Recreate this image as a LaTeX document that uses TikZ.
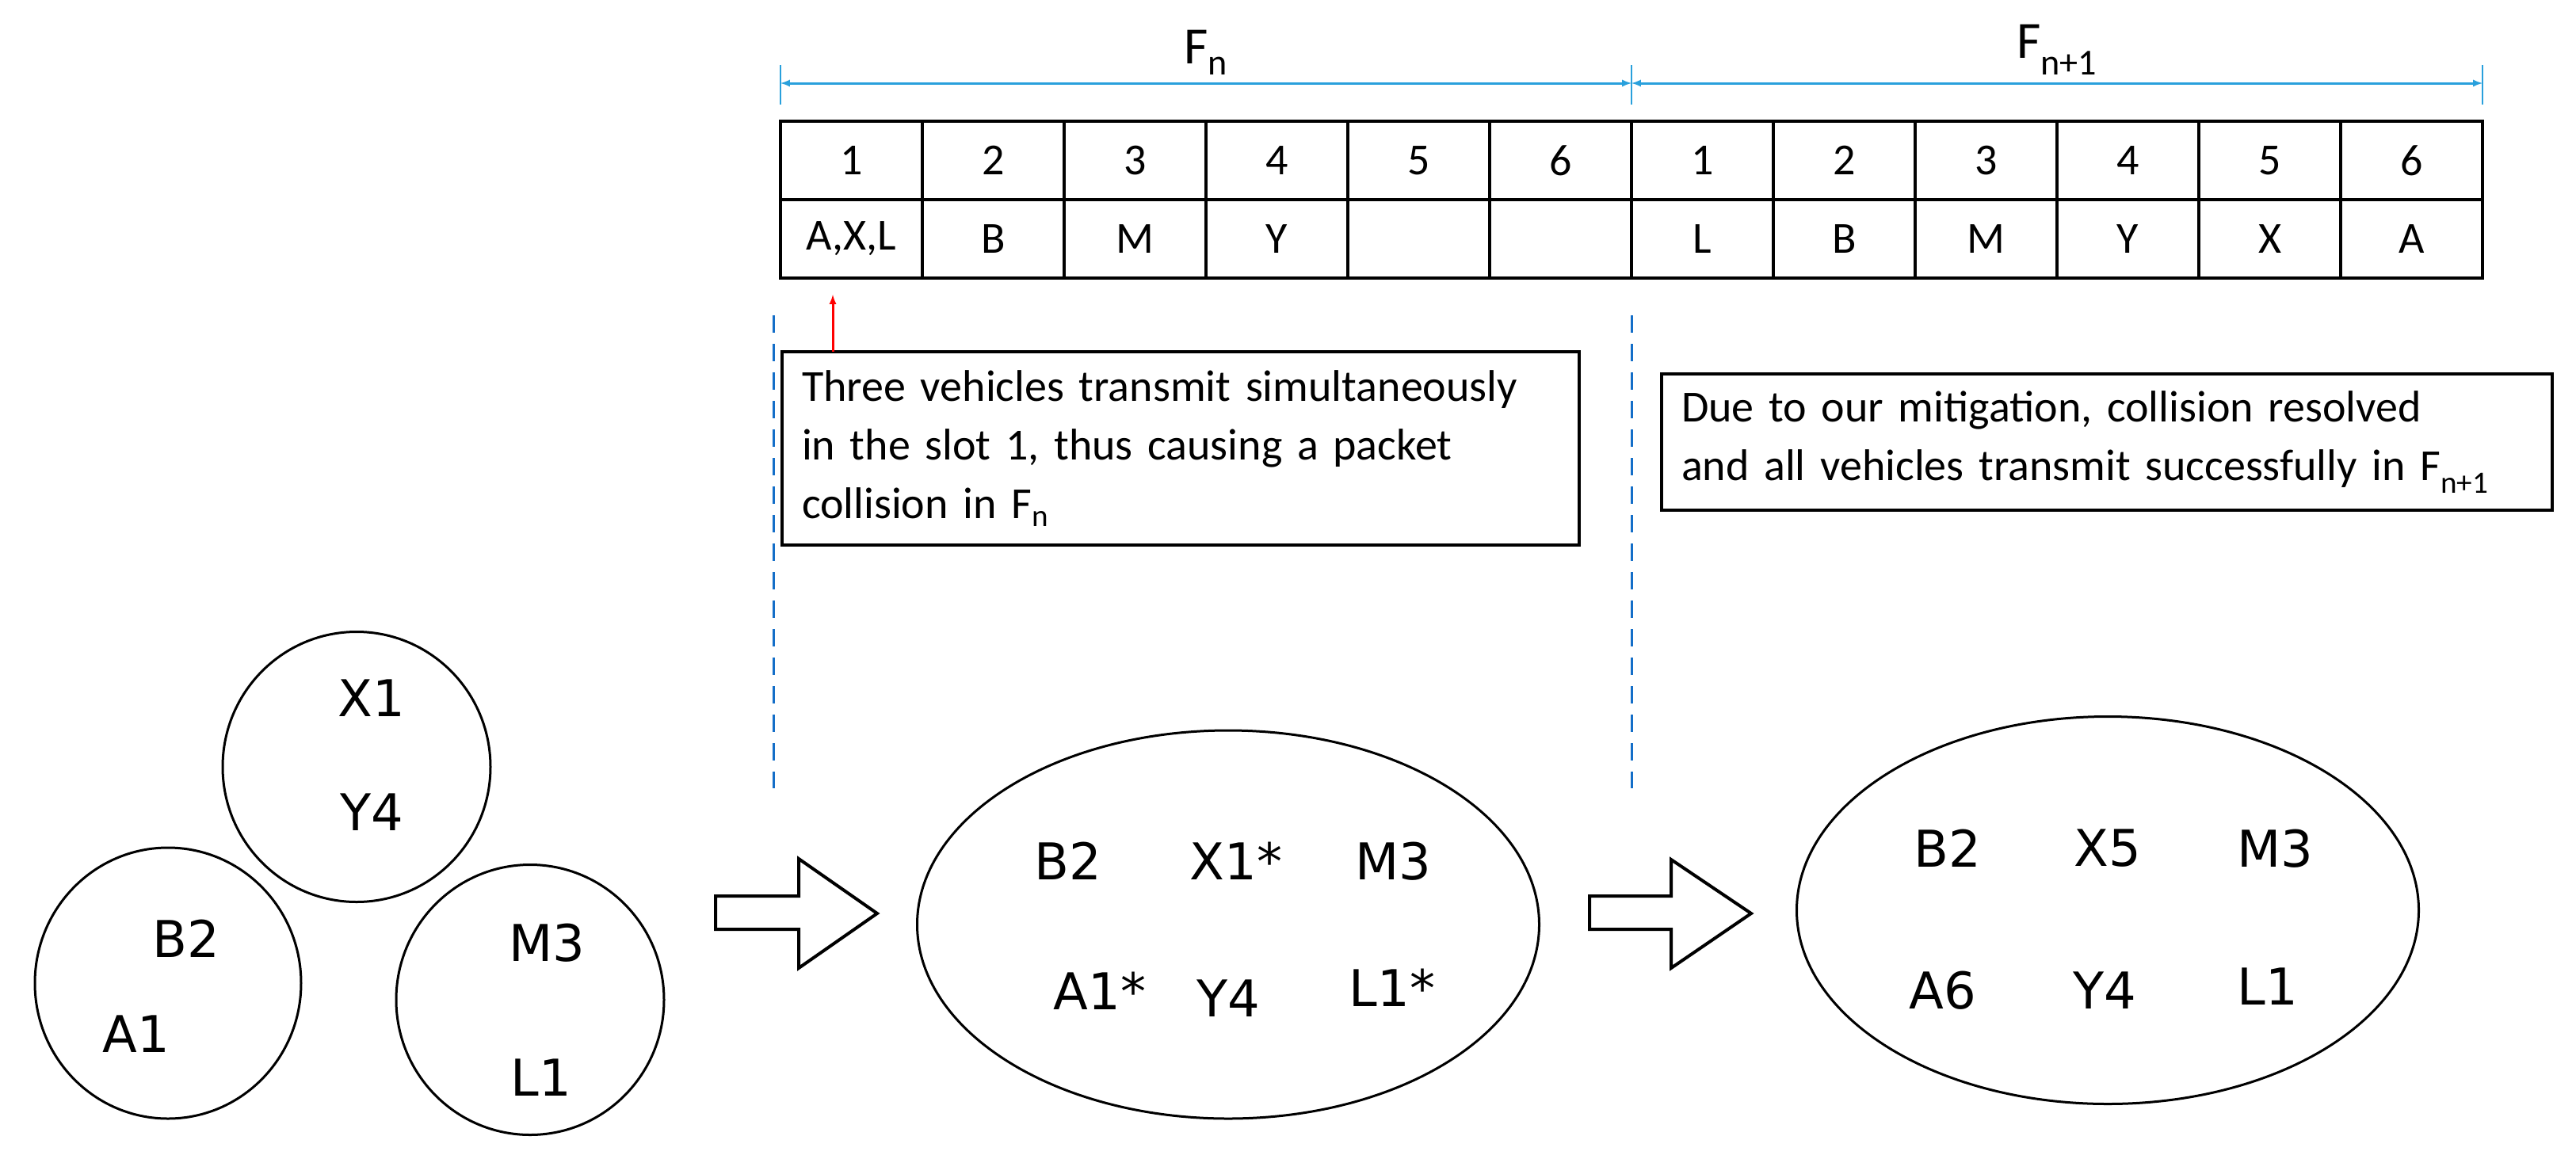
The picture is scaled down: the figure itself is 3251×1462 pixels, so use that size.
\documentclass[tikz,border=0pt]{standalone}
\usepackage{fontspec}
\usetikzlibrary{shapes.geometric}
\setmainfont{Carlito}
\newfontfamily\lblfont{DejaVu Sans}
\definecolor{spanblue}{RGB}{41,160,220}
\definecolor{dashblue}{RGB}{20,110,200}
\begin{document}
\begin{tikzpicture}[x=1pt,y=-1pt]
\tikzstyle{slot}=[draw, line width=3.5pt, minimum width=179pt, minimum height=99pt, inner sep=0pt, font=\fontsize{56}{60}\selectfont]
\tikzstyle{span}=[<->, >=latex, line width=3pt, spanblue]
\tikzstyle{tick}=[line width=2pt, spanblue]
\tikzstyle{divider}=[dashed, dash pattern=on 22pt off 14pt, line width=3pt, dashblue]
\tikzstyle{note}=[draw, line width=3.5pt, align=left, inner xsep=25pt, inner ysep=0pt, font=\fontsize{56}{74}\selectfont]
\tikzstyle{group}=[draw, line width=3pt, ellipse, inner sep=0pt]
\tikzstyle{veh}=[font=\lblfont\fontsize{64}{70}\selectfont]
\tikzstyle{block}=[draw, line width=4pt, fill=white, line join=miter]
\useasboundingbox (0,0) rectangle (3251,1462);
% frame spans
\coordinate (s0) at (985,82);  \coordinate (s0b) at (985,132);
\coordinate (s1) at (2059,82); \coordinate (s1b) at (2059,132);
\coordinate (s2) at (3133,82); \coordinate (s2b) at (3133,132);
\draw[tick] (s0) -- (s0b);
\draw[tick] (s1) -- (s1b);
\draw[tick] (s2) -- (s2b);
\draw[span] (985,105) -- node [above=6pt, black, font=\fontsize{66}{70}\selectfont] {F\textsubscript{n}} (2059,105);
\draw[span] (2059,105) -- node [above=6pt, black, font=\fontsize{66}{70}\selectfont] {F\textsubscript{n+1}} (3133,105);
% slots of both frames
\foreach \i/\top/\bot in {1/1/{A,X,L},2/2/B,3/3/M,4/4/Y,5/5/,6/6/,7/1/L,8/2/B,9/3/M,10/4/Y,11/5/X,12/6/A}
{
  \draw node[slot] (t\i) at (985+179*\i-89.5,202.5) {\top};
  \draw node[slot] (b\i) at (985+179*\i-89.5,301.5) {\bot};
}
% notes
\draw node[note, minimum width=1006pt, minimum height=244pt, text width=956pt] (N1) at (1490,566) {Three vehicles transmit simultaneously\\in the slot 1, thus causing a packet\\collision in F\textsubscript{n}};
\draw node[note, minimum width=1124pt, minimum height=172pt, text width=1074pt] (N2) at (2659,558) {Due to our mitigation, collision resolved\\and all vehicles transmit successfully in F\textsubscript{n+1}};
\coordinate (r0) at (1051,444);
\coordinate (r1) at (1051,372);
\draw[->, >=latex, red, line width=3pt] (r0) -- (r1);
% frame borders
\coordinate (d0) at (976,398);  \coordinate (d0b) at (976,995);
\coordinate (d1) at (2059,398); \coordinate (d1b) at (2059,995);
\draw[divider] (d0) -- (d0b);
\draw[divider] (d1) -- (d1b);
% vehicle groups before
\draw node[group, minimum width=338pt, minimum height=341pt] (G1) at (450,968) {};
\draw node[group, minimum width=336pt, minimum height=342pt] (G2) at (212,1241) {};
\draw node[group, minimum width=338pt, minimum height=341pt] (G3) at (669,1262) {};
\draw node[veh] (x1) at (469,881) {X1};
\draw node[veh] (y4) at (469,1025) {Y4};
\draw node[veh] (b2) at (235,1185) {B2};
\draw node[veh] (a1) at (172,1305) {A1};
\draw node[veh] (m3) at (690,1190) {M3};
\draw node[veh] (l1) at (683,1360) {L1};
% merged group
\draw[block] (903,1131) -- (1008,1131) -- (1008,1084) -- (1107,1153) -- (1008,1222) -- (1008,1173) -- (903,1173) -- cycle;
\draw node[group, minimum width=785pt, minimum height=490pt] (G4) at (1550,1167) {};
\draw node[veh] (mb2) at (1348,1087) {B2};
\draw node[veh] (mx1) at (1560,1087) {X1*};
\draw node[veh] (mm3) at (1758,1087) {M3};
\draw node[veh] (ma1) at (1388,1251) {A1*};
\draw node[veh] (my4) at (1550,1260) {Y4};
\draw node[veh] (ml1) at (1757,1247) {L1*};
% resolved group
\draw[block] (2006,1131) -- (2109,1131) -- (2109,1085) -- (2210,1153) -- (2109,1222) -- (2109,1173) -- (2006,1173) -- cycle;
\draw node[group, minimum width=785pt, minimum height=489pt] (G5) at (2660,1149) {};
\draw node[veh] (rb2) at (2458,1071) {B2};
\draw node[veh] (rx5) at (2660,1071) {X5};
\draw node[veh] (rm3) at (2871,1071) {M3};
\draw node[veh] (ra6) at (2452,1250) {A6};
\draw node[veh] (ry4) at (2656,1250) {Y4};
\draw node[veh] (rl1) at (2862,1245) {L1};
\end{tikzpicture}
\end{document}
